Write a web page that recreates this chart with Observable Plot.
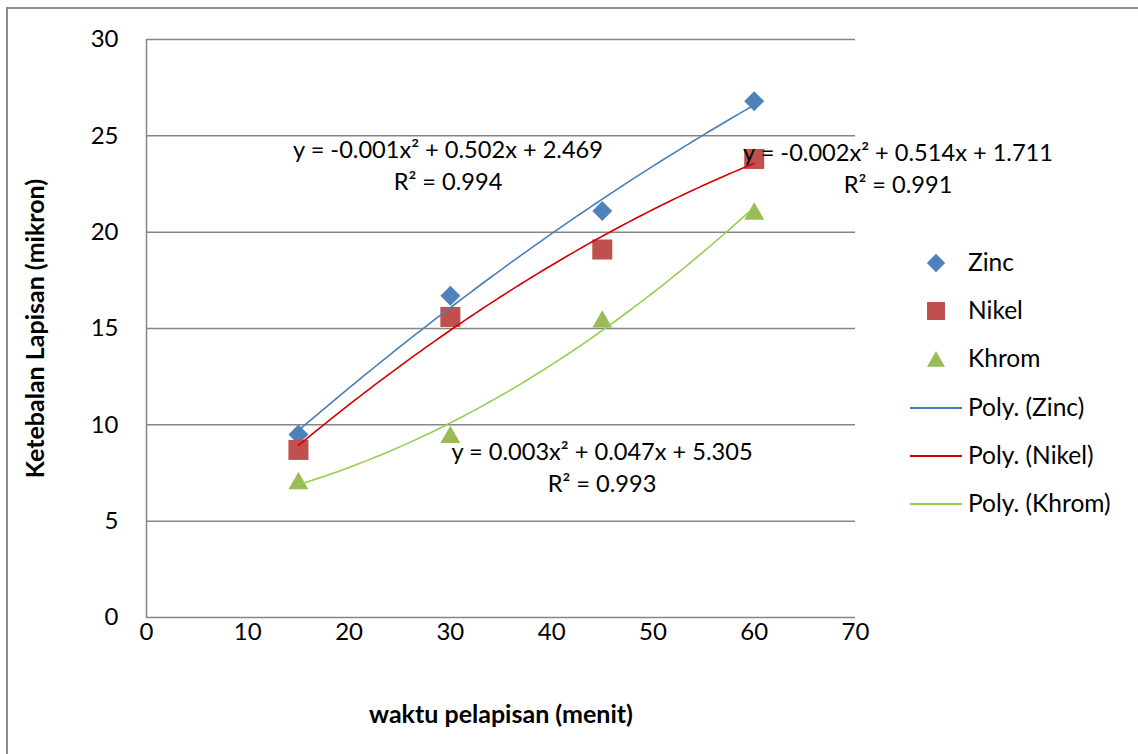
<!DOCTYPE html>
<html>
<head>
<meta charset="utf-8">
<script src="https://cdn.jsdelivr.net/npm/d3@7"></script>
<script src="https://cdn.jsdelivr.net/npm/@observablehq/plot@0.6"></script>
<style>
  html, body { margin: 0; padding: 0; background: #fff; }
  #wrap { position: relative; width: 1138px; height: 754px; overflow: hidden; font-family: Lato, "Open Sans", sans-serif; }
  #wrap svg { position: absolute; left: 0; top: 0; z-index: 2; background: transparent; }
  .frameTop { position: absolute; left: 6px; top: 7px; width: 1132px; height: 2px; background: #8c8c8c; z-index: 1; }
  .frameLeft { position: absolute; left: 6px; top: 7px; width: 2px; height: 747px; background: #8c8c8c; z-index: 1; }
  #eqs { position: absolute; left: 0; top: 0; z-index: 3; }
  .eq { position: absolute; font-size: 23.6px; line-height: 32px; text-align: center; color: #000; transform: translateX(-50%); white-space: nowrap; }
  #legend { position: absolute; left: 900px; top: 239px; z-index: 3; }
  .lrow { position: relative; height: 48.2px; width: 238px; }
  .lrow svg { position: absolute; left: 0; top: 0; }
  .lrow span { position: absolute; left: 68px; top: 8px; font-size: 24.5px; line-height: 30px; color: #000; white-space: nowrap; }
</style>
</head>
<body>
<div id="wrap">
  <div class="frameTop"></div>
  <div class="frameLeft"></div>
  <div id="eqs"></div>
  <div id="legend"></div>
</div>
<script>
// ---- data ----
const times = [15, 30, 45, 60];
const zinc  = [9.5, 16.7, 21.1, 26.8];
const nikel = [8.7, 15.6, 19.1, 23.8];
const khrom = [7.1, 9.5, 15.5, 21.1];
const seriesNames = ["Zinc", "Nikel", "Khrom"];
const markerColors = ["#4F81BD", "#C0504D", "#9BBB59"];
const lineColors = ["#4A7EBB", "#D40000", "#92D050"];
const symbols = ["diamond2", "square", "triangle"];
const xTicks = [0, 10, 20, 30, 40, 50, 60, 70];
const yTicks = [0, 5, 10, 15, 20, 25, 30];
const equations = [
  ["y = -0.001x² + 0.502x + 2.469", "R² = 0.994"],
  ["y = -0.002x² + 0.514x + 1.711", "R² = 0.991"],
  ["y = 0.003x² + 0.047x + 5.305", "R² = 0.993"]
];
const xTitle = "waktu pelapisan (menit)";
const yTitle = "Ketebalan Lapisan (mikron)";

const values = [zinc, nikel, khrom];

// points table
const points = [];
seriesNames.forEach((s, i) => times.forEach((t, j) => points.push({series: s, x: t, y: values[i][j]})));

// least-squares quadratic trendline (like Excel's polynomial trendline, order 2)
function quadFit(xs, ys) {
  const S = k => d3.sum(xs, x => Math.pow(x, k));
  const T = k => d3.sum(xs, (x, i) => Math.pow(x, k) * ys[i]);
  const A = [[S(4), S(3), S(2)], [S(3), S(2), S(1)], [S(2), S(1), xs.length]];
  const b = [T(2), T(1), T(0)];
  const n = 3;
  for (let c = 0; c < n; c++) {
    for (let r = c + 1; r < n; r++) {
      const f = A[r][c] / A[c][c];
      for (let k = c; k < n; k++) A[r][k] -= f * A[c][k];
      b[r] -= f * b[c];
    }
  }
  const sol = [0, 0, 0];
  for (let r = n - 1; r >= 0; r--) {
    let s = b[r];
    for (let k = r + 1; k < n; k++) s -= A[r][k] * sol[k];
    sol[r] = s / A[r][r];
  }
  return sol; // a, b, c
}
const trend = [];
seriesNames.forEach((s, i) => {
  const [a, b, c] = quadFit(times, values[i]);
  const x0 = d3.min(times), x1 = d3.max(times);
  for (let k = 0; k <= 90; k++) {
    const x = x0 + (x1 - x0) * k / 90;
    trend.push({series: s, x, y: a * x * x + b * x + c});
  }
});

const dotMarks = seriesNames.map((s, i) => Plot.dot(points.filter(d => d.series === s), {
  x: "x", y: "y", symbol: () => symbols[i], fill: markerColors[i], stroke: "none",
  r: [9.0, 11.3, 7.4][i], dy: i === 2 ? 2.9 : 0
}));

const chart = Plot.plot({
  width: 1138, height: 754,
  marginLeft: 146, marginRight: 283, marginTop: 39, marginBottom: 137,
  style: {fontFamily: "Lato, 'Open Sans', sans-serif", fontSize: "24px", background: "transparent", color: "#000", overflow: "visible"},
  x: {domain: [0, 70]},
  y: {domain: [0, 30]},
  symbol: {type: "identity"},
  marks: [
    Plot.gridY(yTicks, {stroke: "#868686", strokeOpacity: 1, strokeWidth: 1.5}),
    Plot.ruleX([0], {stroke: "#868686", strokeWidth: 1.5}),
    Plot.axisY(yTicks, {tickSize: 0, tickPadding: 28, label: null, fontSize: 24}),
    Plot.axisX(xTicks, {tickSize: 0, tickPadding: 5, label: null, fontSize: 24}),
    ...dotMarks,
    Plot.line(trend, {x: "x", y: "y", z: "series", stroke: d => lineColors[seriesNames.indexOf(d.series)], strokeWidth: 1.6}),
    Plot.text([yTitle], {frameAnchor: "left", dx: -111, rotate: -90, textAnchor: "middle", lineAnchor: "middle", fontWeight: "bold", fontSize: 25}),
    Plot.text([xTitle], {frameAnchor: "bottom", dy: 97, textAnchor: "middle", lineAnchor: "middle", fontWeight: "bold", fontSize: 25})
  ]
});
document.getElementById("wrap").appendChild(chart);

// equation labels (trendline annotations)
const eqPos = [[448, 133], [898, 136], [602, 435]];
const eqBox = document.getElementById("eqs");
equations.forEach((lines, i) => {
  const d = document.createElement("div");
  d.className = "eq";
  d.style.left = eqPos[i][0] + "px";
  d.style.top = eqPos[i][1] + "px";
  d.innerHTML = lines.join("<br>");
  eqBox.appendChild(d);
});

// legend
const legend = document.getElementById("legend");
const ns = "http://www.w3.org/2000/svg";
const legendItems = [
  ...seriesNames.map((s, i) => ({label: s, kind: "marker", i})),
  ...seriesNames.map((s, i) => ({label: `Poly. (${s})`, kind: "line", i}))
];
legendItems.forEach(item => {
  const row = document.createElement("div");
  row.className = "lrow";
  const svg = document.createElementNS(ns, "svg");
  svg.setAttribute("width", 66); svg.setAttribute("height", 48);
  if (item.kind === "marker") {
    const p = document.createElementNS(ns, "path");
    const sym = [d3.symbolDiamond2, d3.symbolSquare, d3.symbolTriangle][item.i];
    const size = [215, 324, 140][item.i];
    p.setAttribute("d", d3.symbol(sym, size)());
    p.setAttribute("transform", `translate(36,${item.i === 2 ? 26.5 : 24})`);
    p.setAttribute("fill", markerColors[item.i]);
    svg.appendChild(p);
  } else {
    const l = document.createElementNS(ns, "line");
    l.setAttribute("x1", 10); l.setAttribute("x2", 62);
    l.setAttribute("y1", 24); l.setAttribute("y2", 24);
    l.setAttribute("stroke", lineColors[item.i]); l.setAttribute("stroke-width", 2);
    svg.appendChild(l);
  }
  row.appendChild(svg);
  const t = document.createElement("span");
  t.textContent = item.label;
  row.appendChild(t);
  legend.appendChild(row);
});
</script>
</body>
</html>
